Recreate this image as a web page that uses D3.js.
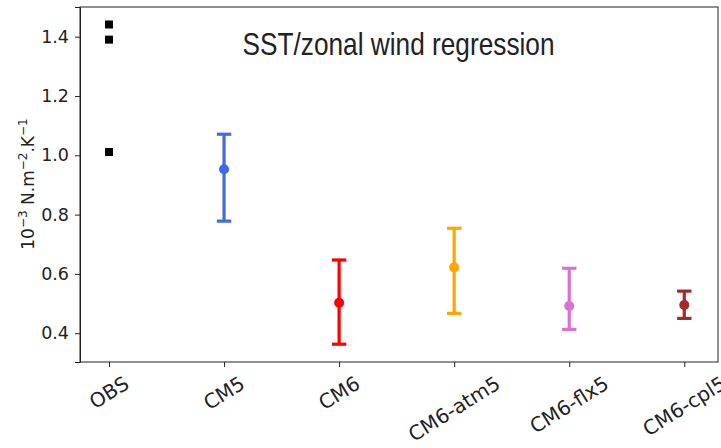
<!DOCTYPE html>
<html>
<head>
<meta charset="utf-8">
<script src="https://cdn.jsdelivr.net/npm/d3@7"></script>
<style>
  html, body { margin: 0; padding: 0; background: #fff; }
  svg { display: block; }
  text { font-family: "DejaVu Sans", sans-serif; fill: #222; }
</style>
</head>
<body>
<svg id="chart" width="721" height="448"></svg>
<script>
// Categories along the x axis
const categories = ["OBS", "CM5", "CM6", "CM6-atm5", "CM6-flx5", "CM6-cpl5"];
// Observational estimates (black squares)
const obsValues = [1.441, 1.390, 1.011];
// Model ensemble means and spread (lower / upper bounds)
const models = ["CM5", "CM6", "CM6-atm5", "CM6-flx5", "CM6-cpl5"];
const modelMean = [0.953, 0.503, 0.622, 0.492, 0.495];
const modelLow  = [0.778, 0.363, 0.467, 0.413, 0.450];
const modelHigh = [1.071, 0.647, 0.754, 0.619, 0.542];
const modelColors = ["#4169e1", "#ff0000", "#ffa500", "#da70d6", "#a52a2a"];
const yTicks = [0.4, 0.6, 0.8, 1.0, 1.2, 1.4];

const svg = d3.select("#chart");
const plotL = 80, plotR = 718, plotT = 7, plotB = 362;

const x = d3.scaleLinear().domain([-0.252, 5.293]).range([plotL, plotR]);
const y = d3.scaleLinear().domain([0.303, 1.5]).range([plotB, plotT]);
const xi = name => x(categories.indexOf(name));

// Frame
svg.append("rect")
  .attr("x", plotL).attr("y", plotT)
  .attr("width", plotR - plotL).attr("height", plotB - plotT)
  .attr("fill", "none").attr("stroke", "#222").attr("stroke-width", 1);

// Y axis
const yAxis = svg.append("g")
  .attr("transform", `translate(${plotL},0)`)
  .call(d3.axisLeft(y).tickValues(yTicks).tickFormat(d3.format(".1f")).tickSize(5).tickPadding(6));
yAxis.select(".domain").attr("stroke", "#222");
yAxis.selectAll(".tick line").attr("stroke", "#222");
yAxis.selectAll(".tick text").style("font-size", "17.5px").attr("fill", "#222");

// X axis ticks
const xAxis = svg.append("g")
  .attr("transform", `translate(0,${plotB})`)
  .call(d3.axisBottom(x).tickValues(d3.range(categories.length)).tickFormat("").tickSize(5));
xAxis.select(".domain").remove();
xAxis.selectAll(".tick line").attr("stroke", "#222");

// Rotated category labels, bounding box centred under each tick
const labelTop = 375;
const rot = 32;
const ang = rot * Math.PI / 180;
categories.forEach((c, i) => {
  const t = svg.append("text")
    .style("font-size", "20px")
    .attr("text-anchor", "middle")
    .attr("dominant-baseline", "central")
    .text(c);
  const w = t.node().getComputedTextLength();
  const hgt = 15;
  const bh = w * Math.sin(ang) + hgt * Math.cos(ang);
  const cy = labelTop + bh / 2;
  t.attr("transform", `translate(${x(i)},${cy}) rotate(${-rot})`);
});

// Y axis label
const yl = svg.append("text")
  .attr("transform", `translate(34,184) rotate(-90)`)
  .attr("text-anchor", "middle")
  .style("font-size", "17px");
yl.append("tspan").text("10");
yl.append("tspan").attr("dy", -7).style("font-size", "12px").text("−3");
yl.append("tspan").attr("dy", 7).text(" N.m");
yl.append("tspan").attr("dy", -7).style("font-size", "12px").text("−2");
yl.append("tspan").attr("dy", 7).text(".K");
yl.append("tspan").attr("dy", -7).style("font-size", "12px").text("−1");

// Observation markers
svg.append("g").selectAll("rect").data(obsValues).join("rect")
  .attr("x", xi("OBS") - 4).attr("y", d => y(d) - 4)
  .attr("width", 8).attr("height", 8).attr("fill", "#000");

// Model error bars
const g = svg.append("g");
models.forEach((m, i) => {
  const cx = xi(m), col = modelColors[i];
  g.append("line").attr("x1", cx).attr("x2", cx)
    .attr("y1", y(modelLow[i])).attr("y2", y(modelHigh[i]))
    .attr("stroke", col).attr("stroke-width", 3.2);
  [modelLow[i], modelHigh[i]].forEach(v => {
    g.append("line").attr("x1", cx - 7.2).attr("x2", cx + 7.2)
      .attr("y1", y(v)).attr("y2", y(v))
      .attr("stroke", col).attr("stroke-width", 3.2);
  });
  g.append("circle").attr("cx", cx).attr("cy", y(modelMean[i])).attr("r", 5).attr("fill", col);
});

// Title inside the axes, horizontally condensed
svg.append("text")
  .attr("transform", "translate(398.5,55) scale(0.82,1)")
  .attr("text-anchor", "middle")
  .style("font-family", "'Liberation Sans', Arial, sans-serif")
  .style("font-size", "32px")
  .attr("fill", "#111")
  .text("SST/zonal wind regression");
</script>
</body>
</html>
